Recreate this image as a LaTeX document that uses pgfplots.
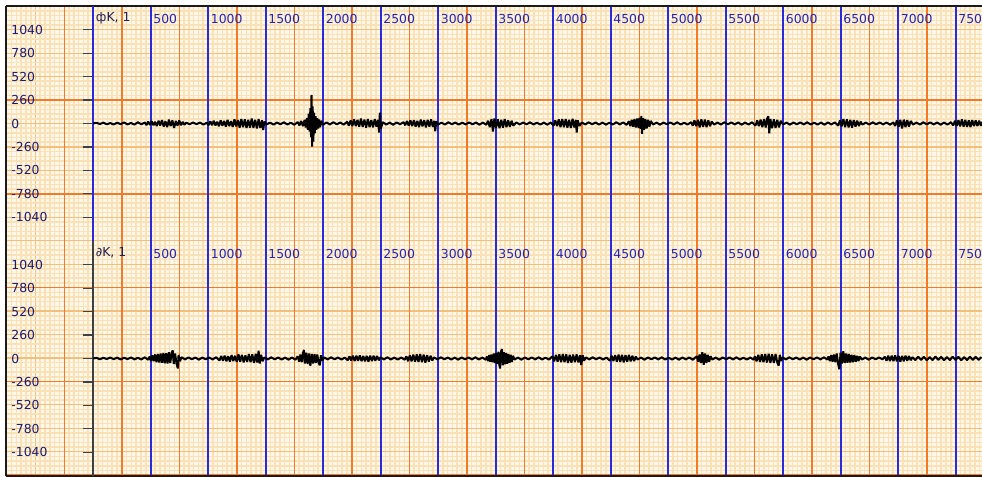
\documentclass[border=0pt]{standalone}
\usepackage{fontspec}
\setmainfont{DejaVu Sans}
\usepackage{pgfplots}
\pgfplotsset{compat=1.18}
\definecolor{bgcol}{HTML}{FFF8EA}
\definecolor{minorcol}{HTML}{FBE2B6}
\definecolor{medcol}{HTML}{F2C07A}
\definecolor{darkor}{HTML}{F57A23}
\definecolor{bluecol}{HTML}{2A2AD8}
\definecolor{tickgray}{HTML}{404040}
\definecolor{framecol}{HTML}{1A1A1A}
\definecolor{xlabcol}{HTML}{2424B4}
\definecolor{ylabcol}{HTML}{1C1C6E}
\definecolor{lblcol}{HTML}{202050}
\pgfplotsset{
 gridlayer/.style={scale only axis, anchor=south west, at={(0pt,0pt)}, width=488pt, height=235pt,
   xmin=-756.5, xmax=7730, ymin=-3909, ymax=1303,
   tick style={draw=none}, axis line style={draw=none}, xticklabels={}, yticklabels={}},
 panel/.style={scale only axis, anchor=south west, width=444.5pt, height=117.5pt,
   xmin=0, xmax=7730, ymin=-1303, ymax=1303, axis x line=none, axis y line*=left,
   xtick=\empty, ytick={-1040,-780,...,1040}, yticklabels={}, tick align=outside,
   major tick length=5pt, tick style={draw=tickgray, line width=0.6pt}},
 labels/.style={scale only axis, anchor=south west, width=488pt, height=117.5pt,
   xmin=-756.5, xmax=7730, ymin=-1303, ymax=1303,
   tick style={draw=none}, axis line style={draw=none},
   ytick={-1040,-780,...,1040}, yticklabels={-1040,-780,-520,-260,0,260,520,780,1040},
   yticklabel style={anchor=west, inner sep=0pt, xshift=2.5pt, text=ylabcol, font=\fontsize{6.2}{7}\selectfont},
   xtick={500,1000,...,7500}, xticklabels={500,1000,1500,2000,2500,3000,3500,4000,4500,5000,5500,6000,6500,7000,7500},
   xticklabel pos=right,
   xticklabel style={anchor=north west, inner sep=0pt, xshift=1.25pt, yshift=-4pt, text=xlabcol, font=\fontsize{6.2}{7}\selectfont},
   extra x ticks={0}, extra x tick style={xticklabel style={yshift=0.9pt, text=lblcol}}},
 trace/.style={black, line width=1.0pt, mark=none, line join=bevel},
}
\begin{document}
\begin{tikzpicture}
\useasboundingbox (-3pt,-0.5pt) rectangle (488pt,238pt);
% background grid
\begin{axis}[gridlayer, axis background/.style={fill=bgcol},
  xtick distance=250, ytick distance=260, minor x tick num=5, minor y tick num=4, grid=both,
  minor grid style={draw=minorcol, line width=0.8pt}, major grid style={draw=medcol, line width=0.65pt}]
\end{axis}
\begin{axis}[gridlayer, xtick={-250,250,...,7250}, ytick={-3900,-2860,-1820,-780,260,1300},
  grid=major, major grid style={draw=darkor, line width=0.75pt}]
\end{axis}
\begin{axis}[gridlayer, xtick={500,1000,...,7500}, ytick=\empty, grid=major,
  major grid style={draw=bluecol, line width=1.0pt},
  axis y line*=left, axis x line*=box, axis line style={draw=framecol, line width=0.7pt}]
\end{axis}
% top panel
\begin{axis}[panel, at={(43.5pt,117.5pt)}, y axis line style={draw=bluecol, line width=1.0pt}]
\addplot[trace] coordinates {
(0,0)(30,8)(60,-6)(90,10)(120,-9)(150,5)(180,-11)(210,9)(240,-7)(270,12)(300,-10)(330,6)(360,-12)(390,14)(420,-9)(450,11)
(465,-18)(480,22)(495,-15)(510,26)(525,-20)(540,18)(555,-28)(570,30)(585,-22)(600,38)(615,-35)(630,25)(645,-40)(660,42)(675,-30)(690,35)(705,-48)(720,28)(735,-25)(750,33)(765,-20)(780,18)(795,-14)
(810,9)(840,-8)(870,11)(900,-7)(930,10)(960,-12)(990,8)
(1005,-20)(1020,25)(1035,-18)(1050,30)(1065,-22)(1080,20)(1095,-30)(1110,35)(1125,-25)(1140,28)(1155,-35)(1170,40)(1185,-30)(1200,25)(1215,-38)(1230,45)(1245,-32)(1260,38)(1275,-45)(1290,50)(1305,-40)(1320,45)(1335,-50)(1350,40)(1365,-45)(1380,55)(1395,-48)(1410,42)(1425,-55)(1440,48)(1455,-50)(1470,35)(1480,-72)(1490,20)
(1510,-10)(1540,9)(1570,-12)(1600,10)(1630,-8)(1660,13)(1690,-11)(1720,9)(1750,-14)(1780,16)
(1795,-22)(1810,28)(1825,-30)(1840,40)(1850,-45)(1860,60)(1868,-70)(1876,110)(1884,-90)(1890,170)(1896,-150)(1900,318)(1905,-255)(1910,190)(1916,-200)(1922,120)(1928,-110)(1935,80)(1942,-70)(1950,60)(1958,-55)(1966,45)(1975,-40)(1985,30)
(2000,-15)(2030,12)(2060,-10)(2090,14)(2120,-9)(2150,11)(2180,-13)
(2210,20)(2225,-25)(2240,35)(2255,-28)(2270,45)(2285,-30)(2300,40)(2315,-35)(2330,55)(2345,-38)(2360,42)(2375,-45)(2390,50)(2405,-40)(2420,38)(2435,-42)(2450,48)(2465,-35)(2478,40)(2488,-100)(2494,120)(2502,-60)
(2520,15)(2550,-12)(2580,10)(2610,-14)(2640,12)(2670,-9)(2700,15)
(2715,-20)(2730,28)(2745,-25)(2760,35)(2775,-30)(2790,38)(2805,-35)(2820,30)(2835,-40)(2850,42)(2865,-32)(2880,36)(2895,-42)(2910,40)(2925,-35)(2940,45)(2955,-38)(2968,30)(2976,-85)(2985,25)
(3000,-12)(3030,9)(3060,-11)(3090,13)(3120,-8)(3150,10)(3180,-12)(3210,9)(3240,-10)(3270,12)(3300,-9)(3330,11)(3360,-13)(3390,10)(3420,-14)
(3435,30)(3450,-40)(3465,50)(3478,-90)(3490,55)(3505,-48)(3520,45)(3535,-52)(3550,40)(3565,-45)(3580,50)(3595,-40)(3610,35)(3625,-38)(3640,30)(3655,-25)
(3680,12)(3710,-10)(3740,11)(3770,-9)(3800,13)(3830,-11)(3860,9)(3890,-12)(3920,10)(3950,-13)(3980,11)
(4005,-25)(4020,35)(4035,-30)(4050,45)(4065,-40)(4080,50)(4095,-42)(4110,48)(4125,-45)(4140,40)(4155,-50)(4170,52)(4185,-45)(4198,40)(4206,-100)(4215,35)(4230,-28)
(4250,12)(4280,-10)(4310,13)(4340,-9)(4370,11)(4400,-12)(4430,10)(4460,-13)(4490,9)(4520,-11)(4550,14)(4580,-10)(4610,12)(4640,-15)
(4660,25)(4672,-30)(4684,40)(4696,-35)(4708,48)(4720,-45)(4732,55)(4744,-50)(4754,65)(4762,-60)(4768,85)(4774,-115)(4782,60)(4792,-70)(4802,50)(4814,-55)(4826,40)(4838,-35)(4850,28)
(4870,-12)(4900,10)(4930,-13)(4960,11)(4990,-9)(5020,12)(5050,-10)(5080,13)(5110,-11)(5140,9)(5170,-12)(5200,14)
(5215,-25)(5230,35)(5245,-30)(5260,40)(5275,-42)(5290,45)(5305,-38)(5320,42)(5335,-40)(5350,35)(5365,-30)(5380,22)
(5400,-12)(5430,10)(5460,-11)(5490,13)(5520,-9)(5550,12)(5580,-10)(5610,11)(5640,-13)(5670,10)(5700,-12)(5730,14)
(5760,-25)(5775,35)(5790,-30)(5805,42)(5820,-40)(5835,48)(5850,-45)(5862,55)(5872,80)(5880,-110)(5890,50)(5905,-52)(5920,45)(5935,-48)(5950,40)(5965,-42)(5980,30)
(6000,-12)(6030,10)(6060,-13)(6090,11)(6120,-9)(6150,12)(6180,-10)(6210,13)(6240,-11)(6270,9)(6300,-12)(6330,10)(6360,-13)(6390,11)(6420,-10)(6450,12)
(6480,-25)(6495,35)(6510,-32)(6525,48)(6540,-40)(6555,45)(6570,-42)(6585,40)(6600,-45)(6615,38)(6630,-35)(6645,32)(6660,-28)(6675,20)
(6690,-12)(6720,10)(6750,-11)(6780,13)(6810,-9)(6840,12)(6870,-10)(6900,11)(6930,-13)(6960,12)
(6975,-28)(6990,35)(7005,-38)(7020,40)(7035,-55)(7050,42)(7065,-40)(7080,38)(7095,-35)(7110,28)
(7130,-12)(7160,10)(7190,-11)(7220,13)(7250,-9)(7280,12)(7310,-10)(7340,11)(7370,-13)(7400,10)(7430,-12)(7460,14)
(7480,-22)(7495,30)(7510,-28)(7525,38)(7540,-32)(7555,45)(7570,-35)(7585,40)(7600,-38)(7615,35)(7630,-40)(7645,38)(7660,-30)(7675,35)(7690,-28)(7705,30)(7720,-25)(7735,20)
};
\end{axis}
% bottom panel
\begin{axis}[panel, at={(43.5pt,0pt)}, y axis line style={draw=tickgray, line width=0.85pt}]
\addplot[trace] coordinates {
(0,0)(30,7)(60,-9)(90,8)(120,-6)(150,11)(180,-8)(210,10)(240,-12)(270,9)(300,-7)(330,12)(360,-10)(390,8)(420,-11)(450,13)(480,-14)
(492,22)(504,-28)(516,35)(528,-30)(540,45)(552,-40)(564,50)(576,-45)(588,55)(600,-48)(612,60)(624,-52)(636,58)(648,-55)(660,70)(672,-50)(684,62)(693,90)(702,-60)(714,55)(726,-58)(738,-110)(744,40)(756,-30)
(770,14)(800,-10)(830,12)(860,-9)(890,11)(920,-13)(950,10)(980,-8)(1010,12)(1040,-11)(1070,14)
(1100,-22)(1115,28)(1130,-25)(1145,32)(1160,-30)(1175,25)(1190,-35)(1205,38)(1220,-28)(1235,30)(1250,-38)(1265,45)(1280,-35)(1295,40)(1310,-42)(1325,35)(1340,-38)(1355,48)(1370,-40)(1385,45)(1400,-50)(1415,52)(1428,-45)(1440,85)(1450,-55)(1462,40)(1475,-30)
(1490,12)(1520,-10)(1550,13)(1580,-9)(1610,11)(1640,-12)(1670,10)(1700,-13)(1730,11)(1760,-14)
(1780,25)(1792,-35)(1804,45)(1816,-40)(1826,60)(1834,95)(1842,-55)(1854,65)(1866,-60)(1878,55)(1890,-80)(1902,50)(1914,-55)(1926,48)(1938,-50)(1950,45)(1962,-48)(1972,-75)(1982,35)(1994,-25)
(2010,12)(2040,-10)(2070,13)(2100,-9)(2130,11)(2160,-12)(2190,10)
(2215,-20)(2230,25)(2245,-22)(2260,30)(2275,-28)(2290,32)(2305,-25)(2320,35)(2335,-30)(2350,28)(2365,-32)(2380,30)(2395,-35)(2410,32)(2425,-28)(2440,30)(2455,-25)(2470,28)(2485,-20)
(2500,12)(2530,-10)(2560,13)(2590,-11)(2620,10)(2650,-12)(2680,11)(2710,-14)
(2725,25)(2740,-30)(2755,38)(2770,-32)(2785,42)(2800,-35)(2815,45)(2830,-38)(2845,50)(2860,-40)(2875,42)(2890,-45)(2905,38)(2920,-35)(2935,30)(2950,-22)
(2965,12)(2995,-10)(3025,13)(3055,-9)(3085,11)(3115,-12)(3145,10)(3175,-13)(3205,11)(3235,-9)(3265,12)(3295,-10)(3325,13)(3355,-11)(3385,10)(3415,-14)
(3425,22)(3435,-30)(3445,38)(3455,-35)(3465,45)(3475,-42)(3485,55)(3495,-50)(3505,62)(3515,-60)(3525,75)(3533,-70)(3540,-111)(3548,80)(3556,104)(3564,-75)(3572,70)(3582,-65)(3592,60)(3602,-58)(3612,50)(3622,-48)(3632,42)(3642,-38)(3652,30)
(3665,-12)(3695,10)(3725,-13)(3755,11)(3785,-9)(3815,12)(3845,-10)(3875,13)(3905,-11)(3935,9)(3965,-12)
(3995,25)(4010,-32)(4025,40)(4040,-35)(4055,45)(4070,-40)(4085,48)(4100,-42)(4115,45)(4130,-48)(4145,40)(4160,-45)(4175,42)(4190,-40)(4205,45)(4220,-42)(4235,38)(4245,-72)(4258,35)(4270,-25)
(4285,12)(4315,-10)(4345,13)(4375,-9)(4405,11)(4435,-12)(4465,10)
(4495,-25)(4510,30)(4525,-28)(4540,38)(4555,-35)(4570,42)(4585,-38)(4600,40)(4615,-42)(4630,38)(4645,-35)(4660,40)(4675,-32)(4690,30)(4705,-28)(4720,22)
(4735,-12)(4765,10)(4795,-13)(4825,11)(4855,-9)(4885,12)(4915,-10)(4945,13)(4975,-11)(5005,9)(5035,-12)(5065,10)(5095,-13)(5125,11)(5155,-10)(5185,12)(5215,-14)
(5250,25)(5262,-35)(5274,45)(5286,-50)(5298,70)(5310,-70)(5322,55)(5334,-50)(5346,40)(5358,-35)(5370,25)
(5385,-12)(5415,10)(5445,-13)(5475,11)(5505,-9)(5535,12)(5565,-10)(5595,13)(5625,-11)(5655,9)(5685,-12)(5715,10)(5745,-14)
(5755,25)(5770,-32)(5785,40)(5800,-38)(5815,45)(5830,-42)(5845,50)(5860,-45)(5875,52)(5890,-48)(5905,45)(5920,-50)(5935,48)(5950,-45)(5962,-80)(5972,40)(5985,-30)
(5995,12)(6025,-10)(6055,13)(6085,-9)(6115,11)(6145,-12)(6175,10)(6205,-13)(6235,11)(6265,-9)(6295,12)(6325,-10)(6355,13)(6385,-11)
(6395,22)(6407,-30)(6419,38)(6431,-35)(6443,45)(6455,-42)(6467,55)(6479,-60)(6490,-120)(6500,65)(6512,-55)(6524,80)(6536,-50)(6548,55)(6560,-48)(6572,50)(6584,-45)(6596,42)(6608,-40)(6620,38)(6632,-35)(6644,30)(6656,-28)(6668,22)
(6685,-12)(6715,10)(6745,-13)(6775,11)(6805,-9)(6835,12)(6865,-10)
(6885,20)(6900,-25)(6915,30)(6930,-28)(6945,32)(6960,-30)(6975,35)(6990,-32)(7005,30)(7020,-35)(7035,28)(7050,-30)(7065,32)(7080,-25)(7095,28)(7110,-20)
(7125,15)(7150,-18)(7175,20)(7200,-15)(7225,18)(7250,-20)(7275,16)(7300,-18)(7325,22)(7350,-15)(7375,18)(7400,-20)(7425,16)(7450,-18)(7475,20)(7500,-16)(7525,18)(7550,-20)(7575,15)(7600,-18)(7625,20)(7650,-16)(7675,18)(7700,-15)(7725,16)
};
\end{axis}
% tick labels
\begin{axis}[labels, at={(0pt,117.5pt)}, extra x tick labels={фK{,} 1}]
\end{axis}
\begin{axis}[labels, at={(0pt,0pt)}, extra x tick labels={∂K{,} 1}]
\end{axis}
\end{tikzpicture}
\end{document}
